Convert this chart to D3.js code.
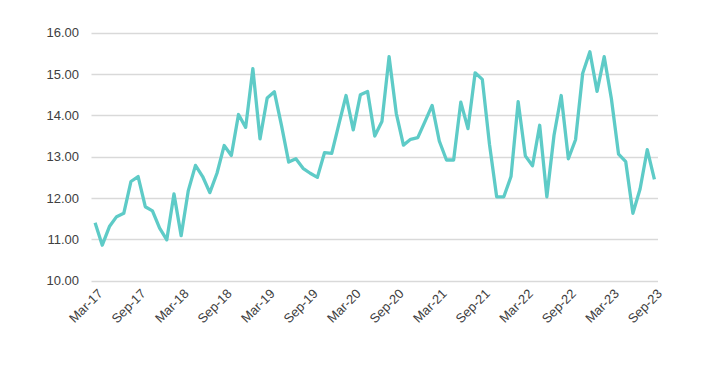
<!DOCTYPE html>
<html>
<head>
<meta charset="utf-8">
<script src="https://cdn.jsdelivr.net/npm/d3@7"></script>
<style>
  html, body { margin: 0; padding: 0; background: #ffffff; }
  svg { display: block; }
  text { font-family: "Liberation Sans", Arial, sans-serif; }
</style>
</head>
<body>
<svg id="chart" width="702" height="369"></svg>
<script>
// Monthly categories Mar-17 .. Sep-23
const startMonth = new Date(2017, 2, 1);
const endMonth = new Date(2023, 8, 1);
const months = d3.timeMonth.range(startMonth, d3.timeMonth.offset(endMonth, 1));
const categories = months.map(d3.timeFormat("%b-%y"));

// Series values
const values = [
  11.40, 10.86, 11.31, 11.55, 11.63, 12.40, 12.52, 11.79, 11.69, 11.27,
  10.99, 12.10, 11.09, 12.18, 12.79, 12.52, 12.13, 12.60, 13.27, 13.03,
  14.02, 13.71, 15.13, 13.43, 14.42, 14.57, 13.75, 12.87, 12.95, 12.72,
  12.60, 12.50, 13.10, 13.08, 13.79, 14.48, 13.65, 14.50, 14.58, 13.50,
  13.85, 15.42, 14.05, 13.28, 13.42, 13.46, 13.85, 14.24, 13.38, 12.92,
  12.92, 14.32, 13.68, 15.03, 14.87, 13.30, 12.03, 12.03, 12.52, 14.33,
  13.02, 12.78, 13.76, 12.03, 13.52, 14.48, 12.95, 13.41, 15.02, 15.54,
  14.58, 15.42, 14.40, 13.06, 12.88, 11.63, 12.22, 13.17, 12.45
];

// Tick labels
const xTickLabels = ["Mar-17","Sep-17","Mar-18","Sep-18","Mar-19","Sep-19","Mar-20",
                     "Sep-20","Mar-21","Sep-21","Mar-22","Sep-22","Mar-23","Sep-23"];
const yTicks = [10, 11, 12, 13, 14, 15, 16];

const svg = d3.select("#chart");
const plotLeft = 91.5, plotRight = 658, plotTop = 32.7, plotBottom = 280.7;

const x = d3.scalePoint().domain(categories).range([plotLeft, plotRight]).padding(0.5);
const y = d3.scaleLinear().domain([10, 16]).range([plotBottom, plotTop]);

// gridlines
svg.append("g")
  .selectAll("line")
  .data(yTicks)
  .join("line")
  .attr("x1", plotLeft).attr("x2", plotRight)
  .attr("y1", d => Math.round(y(d)) + 0.5).attr("y2", d => Math.round(y(d)) + 0.5)
  .attr("stroke", "#d9d9d9").attr("stroke-width", 1.3);

// y axis labels
svg.append("g")
  .selectAll("text")
  .data(yTicks)
  .join("text")
  .attr("x", 79)
  .attr("y", d => y(d))
  .attr("dy", "0.36em")
  .attr("text-anchor", "end")
  .attr("font-size", 13)
  .attr("fill", "#404040")
  .text(d => d3.format(".2f")(d));

// x axis labels
svg.append("g")
  .selectAll("text")
  .data(xTickLabels.filter(l => categories.includes(l)))
  .join("text")
  .attr("transform", d => `translate(${x(d) + 2},${288}) rotate(-45)`)
  .attr("text-anchor", "end")
  .attr("dy", "0.7em")
  .attr("font-size", 13)
  .attr("fill", "#404040")
  .text(d => d);

// line
const line = d3.line()
  .x((d, i) => x(categories[i]))
  .y(d => y(d));

svg.append("path")
  .datum(values)
  .attr("d", line)
  .attr("fill", "none")
  .attr("stroke", "#5ecbc7")
  .attr("stroke-width", 3.3)
  .attr("stroke-linejoin", "round")
  .attr("stroke-linecap", "butt");
</script>
</body>
</html>
